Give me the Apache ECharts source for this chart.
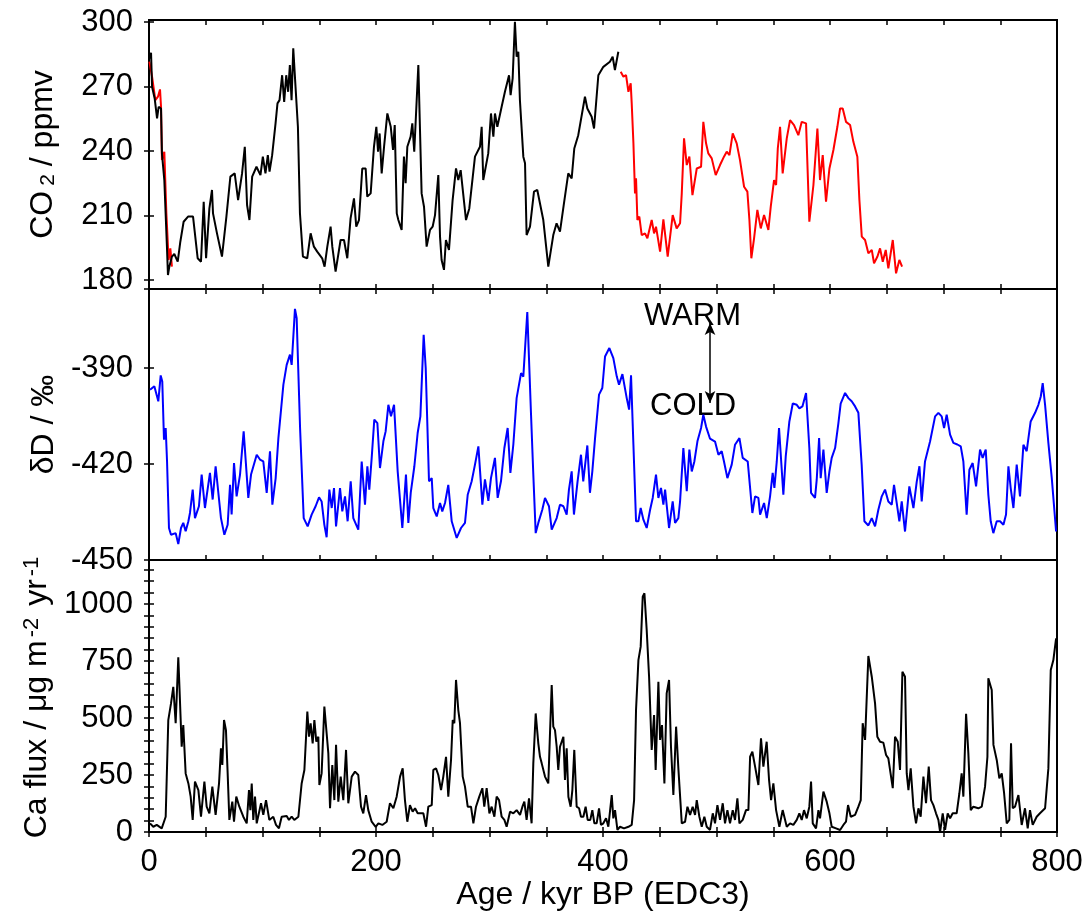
<!DOCTYPE html>
<html>
<head>
<meta charset="utf-8">
<script src="https://cdn.jsdelivr.net/npm/echarts@6/dist/echarts.min.js"></script>
<style>
  html, body { margin: 0; padding: 0; background: #fff; }
  #chart { width: 1089px; height: 915px; }
</style>
</head>
<body>
<div id="chart"></div>
<script>
// age in kyr BP
const co2BlackAge = [0.35,1.8,2.7,5,7.1,8.5,10.6,11.4,13.5,15.8,16.7,17.9,20.2,22.3,25.3,27.6,30.5,34.4,38.8,42.9,45.8,48.2,50.3,53.2,55.5,56.4,59.9,64.3,68.2,71.7,75.5,78.5,82,84.4,86.4,88.5,90.9,94.7,98.2,100.3,102.6,104.7,106.2,108.5,111.5,113.2,115,117.3,119.1,120.9,122.6,124.1,125.6,127.1,129.1,131.2,133,135.6,139.4,142.4,145.3,148.2,152.6,154.7,157.1,160,161.5,164.4,168.8,171.8,174.7,177.6,180.6,182.6,185,187.9,190.9,192.3,195.3,198.2,200.3,201.8,203.2,205,207.1,210,213,215,216.5,218.3,219.7,222.6,224.6,226.1,227.6,230.5,232,233.7,237.3,240.2,242.3,244.6,247.6,249.9,252,254.9,256.4,257.8,259.9,261.6,264.3,267.5,270.5,272.5,274.6,279.3,282.2,287.2,291.6,293.1,294.5,298.9,301.3,303.4,304.8,306.9,310.7,313.6,315.1,317.2,318.6,320.4,322.4,323.9,325.4,326.8,329.8,331.3,332.7,335.7,339.2,342.1,347.4,351.8,356.2,359.1,362.1,365.6,369.4,372.4,374.7,378.2,379.7,384.1,386.2,390,392.1,395.9,400.3,406.1,408.5,410.5,413.5];
const co2BlackPpmv = [283.1,285.7,269.9,264.5,255.2,260.6,259.8,238.9,226.5,195.5,182.3,186.2,190.9,192.1,188.5,197.8,207.1,209.5,209.5,190.1,188.5,216.4,190.1,213.3,221.9,211,201.7,190.9,209.5,228.1,229.6,217.2,229.6,242,214.9,207.9,228.1,232.7,228.8,237.4,229.6,238.1,230.4,238.1,252.9,262.2,263.7,275.3,262.9,275.3,267.6,280,263.7,287.8,269.9,251.3,211,190.9,190.1,201.7,195.5,193.2,190.1,186.2,195.5,204.8,195.5,183.9,198.6,198.6,190.1,208.7,218,204.8,207.9,231.9,231.9,218.8,220.3,242,251.3,239.7,248.2,229.6,242,257.5,251.3,240.5,252.1,211,207.9,203.3,237.4,225,242,246.7,252.9,239.7,280,220.3,214.1,195.5,203.3,204.8,210.2,228.8,200.2,189.3,184.7,198.6,194,217.2,231.9,226.5,231.1,207.9,213.3,237.4,242,251.3,226.5,238.9,257.5,246.7,257.5,251.3,260.6,267.6,266.8,275.3,266,273.8,300.2,283.9,286.2,263.7,237.4,234.3,200.9,204.8,221.1,221.9,207.9,186.2,200.9,206.4,202.5,215.7,229.6,227.3,241.2,247.4,246.7,265.3,259.8,256,250.5,275.3,279.2,281.6,283.9,277.7,286.2];

const co2RedYoungAge = [0.35,2.7,5.6,7.9,9.7,10.6,11.4,13.5,15.3,17.3,18.8,20.2];
const co2RedYoungPpmv = [281.6,274.6,263.7,265.3,268.7,260.6,235.8,239.7,211,189.3,194.7,186.2];

const co2RedOldAge = [415.6,418,420.3,422.4,424.4,425.3,426.8,428.2,429.1,430.3,432,434.1,437,439.1,442.9,445,446.7,450.3,453.2,457,461.4,464.9,467.9,469.4,471.4,473.8,476.1,478.8,482.6,486.4,488.4,490.8,492.8,495.8,499.3,503.1,506.6,509,511.4,514.3,517.8,520.7,524.3,527.2,529,530.7,533.1,536,539,541.9,545.7,547.8,550.7,552.5,554,556,558.3,561.9,564.8,568.3,572.1,575.1,578.9,581.8,585.4,588.9,591.2,593.6,596.5,599.5,603,606.5,608.9,611.2,614.1,617.7,620.6,624.1,625.9,628,630.9,633.8,636.8,638.8,641.8,644.1,646.5,649.1,651.4,655.3,658.2,661.1,663.5];
const co2RedOldPpmv = [276.9,274.6,275.3,267.6,271.5,262.2,243.6,220.3,227.3,207.9,209.5,200.9,201.7,199.4,207.9,201.7,204.8,193.2,208.2,190.9,210.2,204,206.4,220.3,245.9,233.5,237.4,219.5,231.9,232.7,253.6,243.6,238.9,236.6,228.8,233.5,237.4,239.7,238.1,248.2,243.6,235.8,223.4,221.1,207.9,190.1,199.4,212.6,204,210.2,203.3,214.1,226.5,224.2,241.2,251.3,229.6,245.9,254.4,252.1,247.4,253.6,252.9,207.1,224.2,250.5,226.5,238.1,216.4,231.9,240.5,251.3,259.8,259.8,253.6,252.1,244.3,237.4,217.2,200.2,198.6,192.4,194,187.8,190.9,194.7,188.5,194,185.4,198.6,183.1,189.3,186.2];

const dDAge = [0.9,4.7,8.2,10.3,11.7,13.2,14.7,15.9,17.6,19.4,23.5,25.8,28.2,30.2,32.3,34.7,36.1,38.5,40.5,44,46.4,49.3,53.7,56.1,58.7,63.4,66.4,69.3,71.4,72.8,74.9,77.2,80.2,83.4,87.5,89.9,94.9,97.8,100.7,103.7,106.6,108.7,111.6,114,118.4,121.3,124.2,125.7,128.6,130.1,133.1,136.3,139.8,143.3,146.8,149.8,152.1,154.5,156.5,158.9,161,163,164.8,168.3,170.3,172.7,175,177.7,180,184.4,187.4,190.3,192.4,194.1,196.2,198.5,201.2,203.5,206.5,208.5,210.9,213.2,215.9,219.1,223.2,226.4,228.5,230.6,233.8,236.7,239.1,242,243.8,246.7,249.1,250.5,253.5,256.4,258.4,260.8,263.7,266.7,271.1,274.9,278.4,280.8,284.3,287.2,290.2,293.7,296,299,301.3,304.8,307.2,310.1,313.1,316,318.4,321,323.9,327.8,329.8,333.3,336.6,338.6,340.7,343,346.5,348.9,352.4,354.8,359.2,362.1,365.1,368,370,372.4,374.4,377.6,380.6,382.6,386.2,388.5,390.6,393,396.5,399.4,401.8,405.6,409.1,412.1,414.1,417.1,420.9,423,424.7,426.8,429.1,431.2,433.2,435.6,438.5,441.5,443.8,446.7,448.8,451.1,453.2,454.7,458.2,461.4,463.5,466.4,467.9,470.8,473.8,476.1,478.2,480.5,483.2,486.4,488.4,490.8,494.3,498.7,501.7,504.6,506.6,509.6,513.4,516.3,520.2,523.1,527.5,531.6,534,536.9,538.4,541.9,544.3,547.2,549.5,551,553.1,555.1,558.9,561,564.2,567.2,570.7,573,575.7,578.9,581.8,583.3,586.8,588.3,590.4,591.8,594.2,597.1,599.5,601.5,604.5,607.4,609.4,613.3,616.2,619.1,622.1,625,627.9,630.3,633.8,636.8,639.7,642.6,645.6,648.5,651.4,654.4,656.4,658.8,661.1,663.2,666.1,669.9,673.5,676.4,678.8,680.8,683.7,688.2,692.6,695.5,698.4,700.5,702.8,705.8,708.7,712.2,715.2,717.5,720.4,722.8,725.7,728.7,732.2,734.5,737.2,739.5,741.6,743.9,746.9,749.8,752.8,755.1,757.2,759.2,761.6,764.5,767.4,770.4,773.3,776.8,780.7,783.6,785.7,787.4,789.5,792.4,795.4,799.2];
const dDPermil = [-396.8,-395.7,-400.4,-392.3,-394.2,-412.4,-408.75,-419.2,-440,-442.1,-441.6,-445,-440,-438.4,-441,-437.9,-435.3,-428,-436.9,-433.2,-423.3,-433.75,-422.8,-431.1,-420.7,-436.9,-442.1,-439,-426.5,-435.8,-419.7,-430.1,-423.3,-409.8,-430.6,-423.3,-417.1,-418.6,-419.2,-429,-416,-432.7,-424.4,-411.9,-395.2,-389,-385.8,-389,-371.5,-374.4,-408.75,-436.9,-439.5,-435.8,-433.2,-430.4,-431.7,-439,-442.9,-428,-433.75,-427.5,-439.5,-427.5,-434.8,-430.1,-437.9,-425.4,-436.9,-440.5,-419.2,-432.7,-420.7,-428,-418.1,-406.1,-407.2,-421.25,-412.9,-409.8,-401.5,-405.1,-401.5,-422.3,-440,-423.3,-438.4,-429,-420.7,-410.3,-405.1,-379.6,-390,-425.4,-424.4,-433.75,-436.4,-432.2,-434.8,-432.2,-426.5,-437.9,-443.1,-440,-438.4,-429.6,-425.4,-420.2,-414.5,-432.7,-424.8,-431.5,-424.4,-418.1,-430.6,-425.4,-415,-408.75,-422.8,-413.9,-399.4,-391.6,-392.7,-372.5,-404.6,-423.3,-441.6,-438.4,-434.3,-430.6,-433.2,-440.5,-436.9,-432.7,-433.2,-435.8,-428,-422.3,-435.8,-425.4,-417.1,-425.4,-414.2,-429,-422.3,-411.9,-398.3,-396.25,-386.4,-383.75,-386.9,-392.6,-395.2,-391.9,-399.4,-403,-392.3,-414,-437.9,-437.9,-433.75,-437.4,-440,-434.3,-430.6,-423.3,-430.6,-427.5,-432.7,-428,-440,-431.7,-438.4,-436.9,-431.7,-415,-428.5,-415.5,-422.3,-419.2,-412.9,-408.75,-404.6,-408.3,-412.1,-413,-417.1,-416,-419.2,-424.4,-420.2,-414,-411.9,-418.1,-419.2,-435.3,-430.1,-430.6,-435.8,-432.2,-436.9,-430.1,-422.8,-427.5,-419.2,-408.75,-429.6,-417.6,-406.7,-401.1,-401.5,-402.6,-402,-397.8,-415,-429,-430.6,-424.9,-411.9,-424.4,-415.5,-429,-422.3,-418.1,-415,-407.2,-401.1,-397.8,-399.4,-400.4,-402,-404,-420.2,-437.9,-439.2,-436.9,-439.5,-434.3,-430.1,-428,-431.7,-432.7,-426.5,-432.2,-437.9,-431.7,-441.1,-427,-433.75,-425.6,-420.7,-431.7,-419.2,-412.9,-405.1,-404,-405.1,-408.75,-404.6,-410.8,-413.4,-413.9,-414.5,-419.2,-435.8,-421.8,-419.7,-427,-415.5,-418.1,-415.5,-429.6,-437.9,-441.6,-437.9,-437.9,-439,-435.8,-420.7,-427.5,-433.75,-420.2,-430.1,-414,-416,-406.7,-404,-401.5,-398.9,-394.7,-401.5,-413.4,-424.4,-441.1];

const caAge = [0.9,3.8,6.8,11.2,14.7,17,19.4,21.4,23.5,25.8,26.7,28.8,30.2,32.3,34.7,36.7,38.5,40.5,43.5,45.8,48.8,50.8,53.2,55.8,58.7,61.7,63.4,64.6,66.1,67.8,69.3,70.8,73.4,74.9,76.9,79.6,83.1,86.1,88.1,89.3,90.5,91.9,93.4,94.9,98.7,100.7,103.1,106,109.5,111.9,114.5,116.9,121.3,123.3,125.7,128,131.6,134.5,136.9,139.5,141,142.4,144.2,145.7,147.4,149.2,150.1,152.1,154.5,156.5,158,159.5,161.5,163.3,164.8,166.8,168.9,171.2,173.6,175.6,178.6,181.5,184.4,186.8,188.8,191.2,193.2,196.2,199.7,202.1,205.6,209.4,212.3,215.3,218.2,221.2,223.5,225.5,227.6,229.9,232.3,234.4,236.7,239.6,241.7,244.1,246.1,249.1,250.5,252.9,254.9,257.3,259.3,261.7,263.7,266.1,267.6,269,270.5,272.5,274,276.4,278.4,280.8,283.7,285.8,288.1,291,293.7,295.4,297.5,299.9,301.9,304.3,306.3,308.4,310.7,313.1,315.1,318.1,321,323.9,326.9,329,330.7,332.7,334.8,337.1,338.6,340.7,343,344.5,346,348.9,351.8,353.3,354.8,356.2,357.7,359.2,360.6,362.1,363.6,365.1,366.5,368,369.5,371.5,373,374.7,376.8,378.9,380.6,382.7,384.7,386.5,388.8,390.6,392.4,394.4,396.5,398.2,400.3,402.7,404.7,407.7,409.1,410.6,412.7,415,418.5,422.4,425.3,427.4,429.1,431.2,433.2,435,436.5,438.5,440.6,442.9,445,446.4,448.8,450.3,452,454.1,456.1,458.2,459.9,462,464.4,466.4,469.4,472.3,474.4,476.7,479,481.1,482.6,484.9,487,489.3,491.4,494.3,496.7,498.7,500.8,503.1,505.5,507.5,509.6,511.9,514.3,516.3,518.4,520.2,523.1,526,528.1,529.6,531.6,534,536.9,539.2,541.3,544.2,546.3,548.1,550.1,552.5,555.4,558.3,561.9,564.8,567.7,570.7,573,575.1,577.1,579.5,581.8,583.3,584.8,587.7,589.8,591.2,594.2,597.1,599.5,601.5,605.3,608.9,611.8,614.1,615.9,618.3,622.1,625,627.1,628.8,630.9,633.8,636.8,639.7,641.7,644.1,647,649.4,651.4,655.3,657.3,659.7,661.7,663.8,666.1,667.6,669.1,671.1,673.5,675.8,677.9,679.9,682.3,684.6,687,689,691.1,693.4,695.5,697,699.3,701.4,703.7,705.8,708.1,711.6,714,716,717.5,719.9,721.9,724,726.3,730.7,733.7,736.6,738.7,739.5,742.5,744,746.9,749.2,751.3,753.4,755.7,758,759.5,761,763,766,768.9,771.8,774.2,776.2,778.6,782.1,785,789.5,792.4,794.5,796.8,799.2];
const caFlux = [38,23,31,16,67,491,564,637,477,766,652,374,469,257,213,155,53,221,184,67,221,111,82,199,75,213,367,294,491,447,257,53,133,45,155,111,67,38,184,96,213,53,155,38,126,75,140,53,67,31,16,67,70,53,67,53,67,213,272,528,418,477,389,491,396,418,206,257,550,433,345,104,294,140,382,133,243,140,360,126,243,265,250,111,82,162,96,45,23,38,31,45,126,104,155,243,279,140,45,118,89,104,82,82,82,23,111,118,272,279,250,184,243,330,155,316,491,477,667,535,477,243,199,111,111,38,111,155,192,111,192,82,111,67,155,140,67,53,23,89,82,96,75,111,133,53,148,38,301,520,389,330,301,243,213,433,645,462,447,374,272,374,396,418,228,367,155,111,184,360,111,104,67,67,111,53,53,96,38,38,104,31,38,60,23,162,60,96,9,23,16,23,31,140,535,754,813,1032,1047,886,681,360,513,272,659,404,469,213,608,667,374,162,462,279,38,45,111,75,111,75,140,67,23,67,23,9,82,38,118,53,126,38,96,38,96,53,148,38,53,96,96,330,352,287,206,411,287,396,228,140,213,96,23,96,23,38,31,53,82,53,96,60,111,221,38,16,96,60,177,133,82,23,16,9,31,45,118,67,75,111,140,477,404,772,681,564,418,396,392,338,323,192,418,396,272,703,681,257,184,279,111,38,104,67,243,126,287,140,118,82,53,1,82,9,82,60,82,82,170,257,155,518,345,96,111,104,111,199,330,674,623,382,316,235,257,170,38,53,389,104,111,162,31,104,16,96,31,67,82,104,279,711,754,849];

const xTicks = [0, 200, 400, 600, 800];
const co2Ticks = [180, 210, 240, 270, 300];
const dDTicks = [-450, -420, -390];
const caTicks = [0, 250, 500, 750, 1000];

const zip = (a, b) => a.map((v, i) => [v, b[i]]);

const font = 'Liberation Sans, Arial, sans-serif';
const fs = 31;   // tick labels
const nfs = 32;  // axis names
const grids = [
  { left: 149, top: 20, width: 908, height: 269 },
  { left: 149, top: 289, width: 908, height: 271 },
  { left: 149, top: 560, width: 908, height: 272 }
];
grids.forEach(g => { g.show = true; g.borderColor = '#000'; g.borderWidth = 2; g.backgroundColor = 'transparent'; });

const tickStyle = { show: true, inside: true, length: 5, lineStyle: { color: '#000', width: 1.5 } };

const xAxes = [];
grids.forEach((g, i) => {
  ['bottom', 'top'].forEach(pos => {
    xAxes.push({
      type: 'value', gridIndex: i, position: pos, min: 0, max: 800, interval: 50,
      axisLine: { show: false },
      axisTick: tickStyle,
      splitLine: { show: false },
      axisLabel: (i === 2 && pos === 'bottom')
        ? { show: true, customValues: xTicks, color: '#000', fontSize: fs, fontFamily: font, margin: 15 }
        : { show: false },
      name: (i === 2 && pos === 'bottom') ? 'Age / kyr BP (EDC3)' : '',
      nameLocation: 'middle', nameGap: 46,
      nameTextStyle: { color: '#000', fontSize: nfs, fontFamily: font }
    });
  });
});

// rich styles for sub/superscripts in the axis names
const nameRich = {
  n: { fontSize: nfs, fontFamily: font, color: '#000' },
  sub: { fontSize: 21, fontFamily: font, color: '#000', verticalAlign: 'bottom', padding: [0, 8, 0, 5] },
  sup: { fontSize: 22, fontFamily: font, color: '#000', verticalAlign: 'top', padding: [0, 3, 0, 3] }
};

// tickOpt: either { interval } (min is a multiple of it) or { customValues }
function yAxisPair(i, min, max, labels, tickOpt, name, gap) {
  const base = {
    type: 'value', gridIndex: i, min: min, max: max,
    axisLine: { show: false },
    splitLine: { show: false },
    axisTick: Object.assign({}, tickStyle, tickOpt.customValues ? { customValues: tickOpt.customValues } : {})
  };
  if (tickOpt.interval) base.interval = tickOpt.interval;
  return [
    Object.assign({}, base, {
      position: 'left',
      axisLabel: { show: true, customValues: labels, formatter: v => String(v), color: '#000', fontSize: fs, fontFamily: font, margin: 16 },
      name: name, nameLocation: 'middle', nameRotate: 90, nameGap: gap,
      nameTextStyle: { color: '#000', fontSize: nfs, fontFamily: font, rich: nameRich }
    }),
    Object.assign({}, base, { position: 'right', axisLabel: { show: false } })
  ];
}

const yAxes = [].concat(
  yAxisPair(0, 175.8, 301, co2Ticks, { customValues: co2Ticks }, '{n|CO}{sub|2}{n|/ ppmv}', 90),
  yAxisPair(1, -450, -365.3, dDTicks, { interval: 30 }, '{n|\u03b4D / \u2030}', 86),
  yAxisPair(2, 0, 1193, caTicks, { interval: 50 }, '{n|Ca flux / \u03bcg m}{sup|-2}{n| yr}{sup|-1}', 94)
);

const lineBase = { type: 'line', showSymbol: false, symbol: 'none', animation: false, z: 3 };

const option = {
  animation: false,
  backgroundColor: '#fff',
  grid: grids,
  xAxis: xAxes,
  yAxis: yAxes,
  series: [
    Object.assign({}, lineBase, { name: 'CO2 Dome C young', xAxisIndex: 0, yAxisIndex: 0, data: zip(co2RedYoungAge, co2RedYoungPpmv), lineStyle: { color: '#ff0000', width: 2 } }),
    Object.assign({}, lineBase, { name: 'CO2 Vostok', xAxisIndex: 0, yAxisIndex: 0, data: zip(co2BlackAge, co2BlackPpmv), lineStyle: { color: '#000', width: 2 } }),
    Object.assign({}, lineBase, { name: 'CO2 Dome C old', xAxisIndex: 0, yAxisIndex: 0, data: zip(co2RedOldAge, co2RedOldPpmv), lineStyle: { color: '#ff0000', width: 2 } }),
    Object.assign({}, lineBase, {
      name: 'dD', xAxisIndex: 2, yAxisIndex: 2, data: zip(dDAge, dDPermil), lineStyle: { color: '#0000ff', width: 2 },
      markLine: {
        silent: true, symbol: ['arrow', 'arrow'], symbolSize: [8, 12],
        lineStyle: { color: '#000', width: 1.5, type: 'solid' }, label: { show: false },
        data: [[{ coord: [494.3, -375.9] }, { coord: [494.3, -400.9] }]]
      }
    }),
    Object.assign({}, lineBase, { name: 'Ca', xAxisIndex: 4, yAxisIndex: 4, data: zip(caAge, caFlux), lineStyle: { color: '#000', width: 2 } })
  ],
  graphic: [
    { type: 'text', left: 644, top: 301, style: { text: 'WARM', fontSize: 31, fontFamily: font, fill: '#000' } },
    { type: 'text', left: 650, top: 391, style: { text: 'COLD', fontSize: 31, fontFamily: font, fill: '#000' } }
  ]
};

const chart = echarts.init(document.getElementById('chart'), null, { renderer: 'canvas' });
chart.setOption(option);
</script>
</body>
</html>
